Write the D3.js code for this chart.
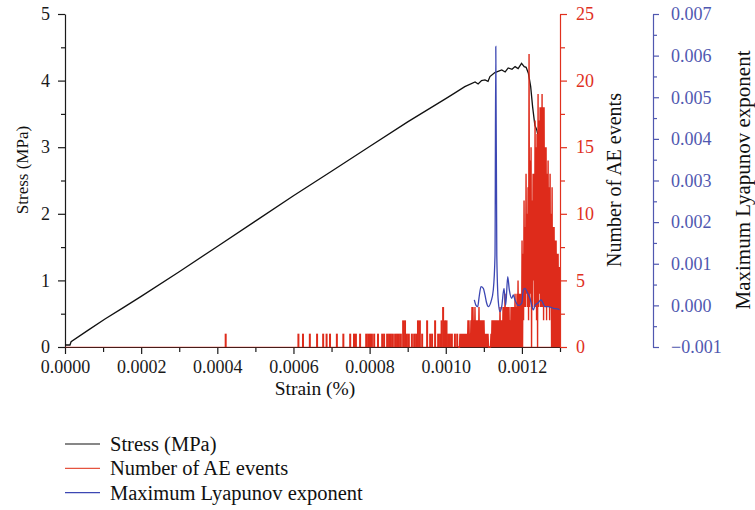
<!DOCTYPE html>
<html>
<head>
<meta charset="utf-8">
<script src="https://cdn.jsdelivr.net/npm/d3@7"></script>
<style>
body { margin: 0; background: #fff; }
svg text { font-family: "Liberation Serif", "DejaVu Serif", serif; }
</style>
</head>
<body>
<script>
// stress-strain curve
var stressStrain = [0, 0.000013, 0.000016, 0.00006, 0.000105, 0.00015, 0.0002, 0.0003, 0.0004, 0.0005,
  0.0006, 0.0007, 0.0008, 0.0009, 0.0010, 0.00102, 0.00105, 0.001077, 0.001085, 0.001094,
  0.001103, 0.001111, 0.001116, 0.001129, 0.001147, 0.001156, 0.001164, 0.001174, 0.001182, 0.00119,
  0.001199, 0.001206, 0.001211, 0.001217, 0.001223, 0.001228, 0.001234, 0.001239, 0.001243, 0.001255,
  0.001269, 0.001282, 0.001294, 0.0013];
var stressValue = [0.03, 0.03, 0.08, 0.25, 0.42, 0.58, 0.76, 1.13, 1.51, 1.89,
  2.27, 2.64, 3.01, 3.38, 3.73, 3.80, 3.91, 3.98, 3.95, 4.00,
  4.01, 3.99, 4.06, 4.12, 4.16, 4.13, 4.19, 4.17, 4.21, 4.18,
  4.26, 4.21, 4.20, 4.11, 3.91, 3.61, 3.33, 3.26, 3.16, 2.6,
  1.9, 1.3, 0.95, 0.82];

// isolated AE events (strain, count)
var aeStrain = [0.000422, 0.000613, 0.000625, 0.000643, 0.000662, 0.000678, 0.000687, 0.000696, 0.000714, 0.000731,
  0.000749, 0.000759, 0.000764, 0.000775, 0.000791, 0.000796, 0.000801, 0.000806, 0.000812, 0.000822,
  0.000833, 0.000838, 0.000846, 0.000851, 0.000856, 0.000861, 0.000867, 0.000872, 0.000877, 0.000882,
  0.000888, 0.000893, 0.000898, 0.000903, 0.000911, 0.000917, 0.000922, 0.000927, 0.000932, 0.000938,
  0.000951, 0.000959, 0.000964, 0.000972, 0.000980, 0.000985, 0.000989, 0.000993, 0.000998, 0.001002,
  0.001006, 0.001011, 0.001016, 0.001024, 0.001030];
var aeCount = [1,1,1,1,1,1,1,1,1,1, 1,1,1,1,1,1,1,1,1,1, 1,1,1,1,1,1,1,1,1,1,
  2,2,1,1,1,1,1,2,2,1, 2,1,1,2,1,1,2,3,2,2, 1,1,1,1,1];

// dense AE record near failure: sampled every aeDenseStep, peak and trough of each sample
var aeDenseStart = 0.001032, aeDenseStep = 0.00000263;
var aeDensePeak = [0,0,1,1,1,1,1,1,1,1, 2,2,1,2,3,3,2,3,2,2, 2,3,2,2,2,2,2,1,1,1,
  1,0,0,1,2,2,2,2,2,2, 2,2,3,2,2,3,3,4,3,3, 3,3,2,3,3,3,3,4,3,4,
  5,4,4,4,8,7,11,9,13,10, 12,22,14,15,11,13,13,17,15,16, 19,17,18,18,19,18,18,15,15,13,
  14,12,13,10,12,9,9,8,8,7, 7,6,6];
var aeDenseTrough = [0,0,0,0,0,0,0,0,0,0, 0,0,0,0,0,0,0,0,0,0, 0,0,0,0,0,0,0,0,0,0,
  0,0,0,0,0,0,0,0,0,0, 0,0,0,0,0,0,0,0,0,0, 0,0,0,0,0,0,0,0,0,0,
  0,0,0,0,0,2,3,3,4,3, 2,3,4,0,3,5,3,3,2,0, 3,4,3,3,3,2,3,3,2,3,
  3,2,3,0,0,0,0,0,0,0, 0,0,0];

// maximum Lyapunov exponent
var lyapStrain = [0.0010750, 0.0010794, 0.0010839, 0.0010873, 0.0010925, 0.0010986, 0.0011030, 0.0011075, 0.0011117, 0.0011188,
  0.0011248, 0.0011293, 0.0011314, 0.0011340, 0.0011380, 0.0011424, 0.0011469, 0.0011529, 0.0011574, 0.0011627,
  0.0011669, 0.0011732, 0.0011774, 0.0011818, 0.0011905, 0.0011994, 0.0012037, 0.0012081, 0.0012152, 0.0012212,
  0.0012257, 0.0012299, 0.0012344, 0.0012415, 0.0012501, 0.0012535, 0.0012606, 0.0012693, 0.0012824, 0.0012955,
  0.0012987];
var lyapValue = [0.00013, 0.0, -0.00003, 0.00018, 0.00045, 0.00041, 0.00025, 0.00005, -0.00003, 0.00009,
  0.00037, 0.0012, 0.00622, 0.0012, 0.00009, -0.00015, -0.00003, 0.00041, 0.0, 0.00069,
  0.00037, 0.00017, 0.00025, 0.00013, 0.0, 0.00005, 0.00037, 0.00041, 0.00029, 0.00017,
  0.0, -0.00011, 0.0, 0.00005, 0.00013, 0.00009, -0.00003, -0.00003, -0.00007, -0.00009,
  -0.0001];

var xTicks = [0, 0.0002, 0.0004, 0.0006, 0.0008, 0.0010, 0.0012];
var xMinor = [0.0001, 0.0003, 0.0005, 0.0007, 0.0009, 0.0011, 0.0013];
var stressTicks = [0, 1, 2, 3, 4, 5];
var stressMinor = [0.5, 1.5, 2.5, 3.5, 4.5];
var aeTicks = [0, 5, 10, 15, 20, 25];
var aeMinor = [2.5, 7.5, 12.5, 17.5, 22.5];
var lyapTicks = [-0.001, 0, 0.001, 0.002, 0.003, 0.004, 0.005, 0.006, 0.007];
var lyapMinor = [-0.0005, 0.0005, 0.0015, 0.0025, 0.0035, 0.0045, 0.0055, 0.0065];
var legendLabels = ["Stress (MPa)", "Number of AE events", "Maximum Lyapunov exponent"];

var RED = "#de2b1b", BLUE = "#3c47b3", BLUE_AXIS = "#5058b0";
var FONT = "Liberation Serif, DejaVu Serif, serif";

var svg = d3.select("body").append("svg").attr("width", 755).attr("height", 510);

var x = d3.scaleLinear().domain([0, 0.0013]).range([65, 560]);
var yS = d3.scaleLinear().domain([0, 5]).range([347, 14]);
var yA = d3.scaleLinear().domain([0, 25]).range([347, 14]);
var yL = d3.scaleLinear().domain([-0.001, 0.007]).range([347, 14]);

svg.append("clipPath").attr("id", "plot")
  .append("rect").attr("x", 65).attr("y", 0).attr("width", 495).attr("height", 348);

function styleAxis(g, color) {
  g.attr("font-size", 18).attr("font-family", FONT).attr("color", color);
  g.selectAll("text").style("font-family", FONT);
  g.selectAll("path, line").attr("stroke-width", 1.2);
}

// left axis
var gL = svg.append("g").attr("transform", "translate(65,0)")
  .call(d3.axisLeft(yS).tickValues(stressTicks).tickSize(7).tickPadding(8).tickSizeOuter(0).tickFormat(d3.format("d")));
styleAxis(gL, "#1a1a1a");
var gLm = svg.append("g").attr("transform", "translate(65,0)")
  .call(d3.axisLeft(yS).tickValues(stressMinor).tickSize(4).tickFormat(""));
gLm.select(".domain").remove();
styleAxis(gLm, "#1a1a1a");

// bottom axis
var gB = svg.append("g").attr("transform", "translate(0,347)")
  .call(d3.axisBottom(x).tickValues(xTicks).tickSize(7).tickPadding(6).tickSizeOuter(0).tickFormat(d3.format(".4f")));
styleAxis(gB, "#1a1a1a");
var gBm = svg.append("g").attr("transform", "translate(0,347)")
  .call(d3.axisBottom(x).tickValues(xMinor).tickSize(5).tickFormat(""));
gBm.select(".domain").remove();
styleAxis(gBm, "#1a1a1a");

// AE axis
var gA = svg.append("g").attr("transform", "translate(560,0)")
  .call(d3.axisRight(yA).tickValues(aeTicks).tickSize(7).tickPadding(9).tickSizeOuter(0).tickFormat(d3.format("d")));
styleAxis(gA, "#e0301e");
var gAm = svg.append("g").attr("transform", "translate(560,0)")
  .call(d3.axisRight(yA).tickValues(aeMinor).tickSize(5).tickFormat(""));
gAm.select(".domain").remove();
styleAxis(gAm, "#e0301e");

// Lyapunov axis
var gY = svg.append("g").attr("transform", "translate(653,0)")
  .call(d3.axisRight(yL).tickValues(lyapTicks).tickSize(6).tickPadding(12).tickSizeOuter(0).tickFormat(d3.format(".3f")));
styleAxis(gY, BLUE_AXIS);
var gYm = svg.append("g").attr("transform", "translate(653,0)")
  .call(d3.axisRight(yL).tickValues(lyapMinor).tickSize(4).tickFormat(""));
gYm.select(".domain").remove();
styleAxis(gYm, BLUE_AXIS);

var plot = svg.append("g").attr("clip-path", "url(#plot)");

// stress
var stressData = stressStrain.map(function(s, i) { return [s, stressValue[i]]; });
plot.append("path").datum(stressData)
  .attr("fill", "none").attr("stroke", "#111").attr("stroke-width", 1.3)
  .attr("d", d3.line().x(function(d) { return x(d[0]); }).y(function(d) { return yS(d[1]); }));

// AE zero line along the axis
plot.append("path").datum(x.domain())
  .attr("fill", "none").attr("stroke", RED).attr("stroke-opacity", 0.45).attr("stroke-width", 1.2)
  .attr("d", d3.line().x(function(d) { return x(d); }).y(yA(0)));

// isolated AE events
plot.selectAll("rect.ae").data(aeStrain).enter().append("rect")
  .attr("class", "ae")
  .attr("x", function(d) { return x(d) - 1; })
  .attr("width", 2)
  .attr("y", function(d, i) { return yA(aeCount[i]); })
  .attr("height", function(d, i) { return yA(0) - yA(aeCount[i]); })
  .attr("fill", RED);

// dense AE record
var denseData = [];
aeDensePeak.forEach(function(p, i) {
  denseData.push([aeDenseStart + i * aeDenseStep, p]);
  denseData.push([aeDenseStart + (i + 0.5) * aeDenseStep, aeDenseTrough[i]]);
});
plot.append("path").datum(denseData)
  .attr("fill", "none").attr("stroke", RED).attr("stroke-width", 1.4)
  .attr("d", d3.line().x(function(d) { return x(d[0]); }).y(function(d) { return yA(d[1]); }));

// Lyapunov exponent
var lyapData = lyapStrain.map(function(s, i) { return [s, lyapValue[i]]; });
plot.append("path").datum(lyapData)
  .attr("fill", "none").attr("stroke", BLUE).attr("stroke-width", 1.3)
  .attr("d", d3.line().curve(d3.curveMonotoneX).x(function(d) { return x(d[0]); }).y(function(d) { return yL(d[1]); }));

// axis titles
function title(t, transform, size) {
  svg.append("text").attr("transform", transform)
    .attr("text-anchor", "middle").attr("font-size", size).attr("fill", "#111")
    .style("font-family", FONT).text(t);
}
title("Stress (MPa)", "translate(28,170) rotate(-90)", 17);
title("Strain (%)", "translate(315,395)", 19.5);
title("Number of AE events", "translate(621,180) rotate(-90)", 20);
title("Maximum Lyapunov exponent", "translate(750,180) rotate(-90)", 21);

// legend
var legendColors = ["#111", "#e5533f", BLUE];
var leg = svg.append("g").selectAll("g").data(legendLabels).enter().append("g")
  .attr("transform", function(d, i) { return "translate(0," + (444 + i * 24.3) + ")"; });
leg.append("line").attr("x1", 65).attr("x2", 100).attr("y1", 0).attr("y2", 0)
  .attr("stroke", function(d, i) { return legendColors[i]; }).attr("stroke-width", 1.2);
leg.append("text").attr("x", 110).attr("y", 7).attr("font-size", 20.5).attr("fill", "#111")
  .style("font-family", FONT)
  .text(function(d) { return d; });
</script>
</body>
</html>
